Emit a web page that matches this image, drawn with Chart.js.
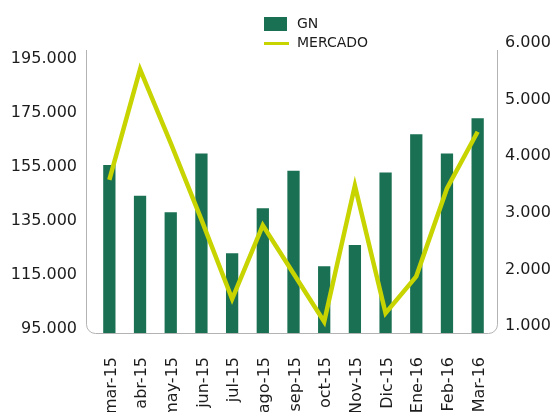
<!DOCTYPE html>
<html>
<head>
<meta charset="utf-8">
<script src="https://cdn.jsdelivr.net/npm/chart.js@4"></script>
<style>
	html, body { margin: 0; padding: 0; background: #fff; }
	canvas { display: block; }
</style>
</head>
<body>
<canvas id="chart" width="552" height="412"></canvas>
<script>
const months = ['mar-15', 'abr-15', 'may-15', 'jun-15', 'jul-15', 'ago-15', 'sep-15', 'oct-15', 'Nov-15', 'Dic-15', 'Ene-16', 'Feb-16', 'Mar-16']
const gnValues = [157100, 145700, 139600, 161400, 124500, 141100, 155000, 119700, 127500, 154300, 168500, 161400, 174400]
const mercadoValues = [3650, 5600, 4300, 2950, 1550, 2850, 2000, 1150, 3550, 1300, 1950, 3500, 4500]
const gnTicks = [95000, 115000, 135000, 155000, 175000, 195000]
const mercadoTicks = [1000, 2000, 3000, 4000, 5000, 6000]

const green = '#1a7052'
const lime = '#c8d400'
const textColor = '#1c1c1c'
const fontFamily = '"DejaVu Sans", Verdana, sans-serif'

function fmt(n) {
	return String(n).replace(/\B(?=(\d{3})+(?!\d))/g, '.')
}

// rounded frame round the plot, drawn under the bars
const framePlugin = {
	id: 'frame',
	beforeDatasetsDraw(chart) {
		const a = chart.chartArea
		const ctx = chart.ctx
		const l = a.left - 8
		const r = a.right + 4
		const b = a.bottom
		const t = 50
		const rad = 9
		ctx.save()
		ctx.strokeStyle = '#b3b3b3'
		ctx.lineWidth = 1
		ctx.beginPath()
		ctx.moveTo(l + 0.5, t)
		ctx.lineTo(l + 0.5, b - rad)
		ctx.arcTo(l + 0.5, b + 0.5, l + rad, b + 0.5, rad)
		ctx.lineTo(r - rad, b + 0.5)
		ctx.arcTo(r + 0.5, b + 0.5, r + 0.5, b - rad, rad)
		ctx.lineTo(r + 0.5, t)
		ctx.stroke()
		ctx.restore()
	},
}

// legend stacked in two rows above the plot
const legendPlugin = {
	id: 'stackedLegend',
	afterDraw(chart) {
		const ctx = chart.ctx
		const ds = chart.data.datasets
		const x = 264
		ctx.save()
		ctx.font = '14px ' + fontFamily
		ctx.textBaseline = 'middle'
		ctx.fillStyle = ds[0].backgroundColor
		ctx.fillRect(x, 17, 23, 14)
		ctx.strokeStyle = ds[1].borderColor
		ctx.lineWidth = 3
		ctx.beginPath()
		ctx.moveTo(x, 43.5)
		ctx.lineTo(x + 25, 43.5)
		ctx.stroke()
		ctx.fillStyle = textColor
		ctx.fillText(ds[0].label, 297, 24)
		ctx.fillText(ds[1].label, 297, 43)
		ctx.restore()
	},
}

let canvas = document.getElementById('chart')

let data = {
	labels: months,
	datasets: [
		{
			type: 'bar',
			label: 'GN',
			data: gnValues,
			backgroundColor: green,
			yAxisID: 'y',
			barPercentage: 0.4,
			categoryPercentage: 1,
			order: 2,
		},
		{
			type: 'line',
			label: 'MERCADO',
			data: mercadoValues,
			borderColor: lime,
			borderWidth: 4.5,
			borderJoinStyle: 'miter',
			pointRadius: 0,
			tension: 0,
			yAxisID: 'y1',
			order: 1,
		},
	],
}

let options = {
	responsive: false,
	animation: false,
	layout: {
		padding: { top: 42, left: 0, right: 0, bottom: 0 },
	},
	plugins: {
		legend: { display: false },
		tooltip: { enabled: false },
	},
	scales: {
		x: {
			offset: true,
			grid: { display: false, drawTicks: false },
			border: { display: false },
			ticks: {
				minRotation: 90,
				maxRotation: 90,
				autoSkip: false,
				padding: 24,
				labelOffset: 2,
				color: textColor,
				font: { family: fontFamily, size: 16 },
			},
			afterFit: function (scale) {
				scale.height = 79
			},
		},
		y: {
			position: 'left',
			min: 95000,
			max: 202580,
			grid: { display: false, drawTicks: false },
			border: { display: false },
			ticks: {
				padding: 17,
				labelOffset: -4,
				color: textColor,
				font: { family: fontFamily, size: 16 },
				callback: function (v) {
					return fmt(v)
				},
			},
			afterBuildTicks: function (scale) {
				scale.ticks = gnTicks.map(function (v) {
					return { value: v }
				})
			},
			afterFit: function (scale) {
				scale.width = 94
			},
		},
		y1: {
			position: 'right',
			min: 951,
			max: 6083,
			grid: { display: false, drawTicks: false },
			border: { display: false },
			ticks: {
				padding: 12,
				labelOffset: -4,
				color: textColor,
				font: { family: fontFamily, size: 16 },
				callback: function (v) {
					return fmt(v)
				},
			},
			afterBuildTicks: function (scale) {
				scale.ticks = mercadoTicks.map(function (v) {
					return { value: v }
				})
			},
			afterFit: function (scale) {
				scale.width = 59
			},
		},
	},
}

let chart = new Chart(canvas, {
	data: data,
	options: options,
	plugins: [framePlugin, legendPlugin],
})
</script>
</body>
</html>
